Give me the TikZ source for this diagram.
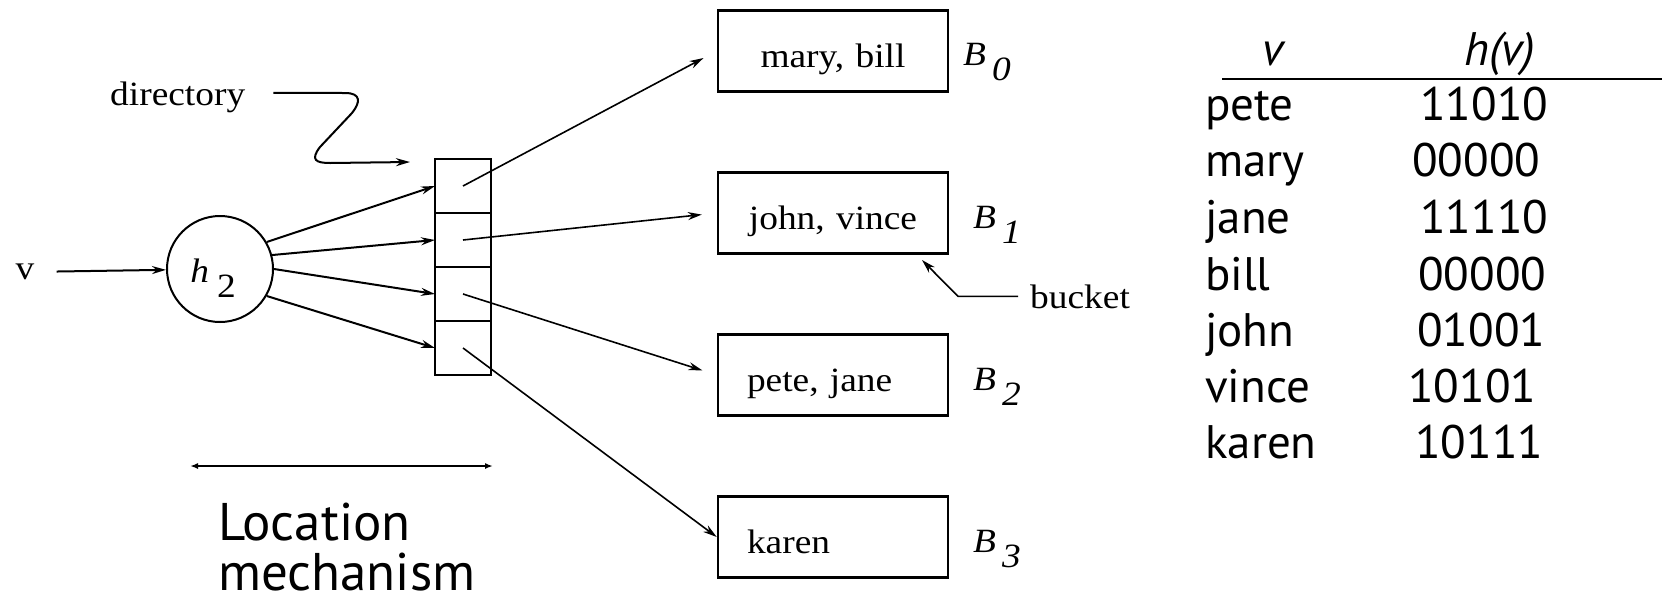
\documentclass[tikz,border=0pt]{standalone}
\usepackage{fontspec}
\setmainfont{PT Sans}
\newfontfamily\figfont[FakeStretch=1.1]{Liberation Serif}
\usetikzlibrary{arrows.meta,positioning}

\newcommand{\bname}[1]{\textit{B}\hspace{6pt}\raisebox{-15pt}{\textit{#1}}}
\newcommand{\hashname}{\textit{h}\hspace{8pt}\raisebox{-15pt}{2}}

\begin{document}
\begin{tikzpicture}[x=1pt,y=-1pt,
    >={Stealth[length=14pt,width=8pt]},
    fig/.style={font=\figfont\fontsize{34}{40}\selectfont,inner sep=0pt},
    bucket/.style={fig,draw,line width=2.5pt,minimum height=81pt,text width=172pt,
        inner xsep=29pt,text height=40pt,text depth=8pt},
    cell/.style={draw,line width=2.5pt,minimum width=56pt,minimum height=54pt,outer sep=0pt},
    hashfn/.style={draw,circle,line width=2pt,minimum size=106pt},
    ptr/.style={->,line width=2pt},
    thinptr/.style={->,line width=1.6pt},
    tab/.style={font=\fontsize{47}{56}\selectfont,inner sep=0pt,anchor=base west}]
    \useasboundingbox (0,0) rectangle (1662,606);

    % hash function and directory
    \node[hashfn] (hash) at (220,269) {};
    \node[fig,anchor=base] (hlabel) at (213,282) {\hashname};
    \node[fig] (vin) at (25,272) {v};
    \draw[ptr,shorten <=22pt] (vin) -- (hash);

    \node[cell] (c1) at (463,186) {};
    \node[cell,below=0pt of c1] (c2) {};
    \node[cell,below=0pt of c2] (c3) {};
    \node[cell,below=0pt of c3] (c4) {};

    \draw[ptr] (hash.30) -- (c1.west);
    \draw[ptr] (hash.15) -- (c2.west);
    \draw[ptr] (hash.0) -- (c3.west);
    \draw[ptr] (hash.-30) -- (c4.west);

    \node[fig,anchor=base west] (dirlabel) at (110,105) {directory};
    \coordinate (dirtip) at (410,162);
    \draw[ptr] ([shift={(28,-4)}]dirlabel.east) -- (345,93)
        .. controls (362,93) and (360,103) .. (352,113) -- (320,147)
        .. controls (310,160) and (316,163) .. (330,163) -- (dirtip);

    % buckets
    \node[bucket,align=center] (b0) at (833,51) {mary, bill};
    \node[bucket,align=center] (b1) at (833,213) {john, vince};
    \node[bucket,align=left] (b2) at (833,375) {pete, jane};
    \node[bucket,align=left] (b3) at (833,537) {karen};

    \draw[thinptr,shorten >=15pt] (c1.center) -- (b0.west);
    \draw[thinptr,shorten >=15pt] (c2.center) -- (b1.west);
    \draw[thinptr,shorten >=15pt] (c3.center) -- (b2.west);
    \draw[thinptr] (c4.center) -- (b3.west);

    \node[fig,anchor=base west] (l0) at (963,65) {\bname{0}};
    \node[fig,anchor=base west] (l1) at (973,228) {\bname{1}};
    \node[fig,anchor=base west] (l2) at (973,390) {\bname{2}};
    \node[fig,anchor=base west] (l3) at (973,552) {\bname{3}};

    \node[fig,anchor=base west] (bkt) at (1030,308) {bucket};
    \coordinate (bkttip) at (922,260);
    \draw[thinptr] ([xshift=-12pt]bkt.west) -- ++(-60,0) -- (bkttip);

    % extent of the location mechanism
    \coordinate (locl) at (190,466);
    \coordinate (locr) at (493,466);
    \draw[{Latex[length=8pt,width=6pt]}-{Latex[length=8pt,width=6pt]},line width=2pt] (locl) -- (locr);
    \node[anchor=north west,align=left,inner sep=0pt,font=\fontsize{53}{50}\selectfont] (locname) at (218,503) {Location\\mechanism};

    % hash values
    \node[tab] (hv) at (1262,65) {\textit{v}};
    \node[tab] (hhv) at (1464,65) {\textit{h(v)}};
    \draw[line width=2.5pt] (1222,79) -- (1662,79);

    \node[tab] (pete) at (1205,120) {pete};
    \node[tab] (petehash) at (1420,120) {11010};
    \node[tab] (mary) at (1205,176) {mary};
    \node[tab] (maryhash) at (1412,176) {00000};
    \node[tab] (jane) at (1205,233) {jane};
    \node[tab] (janehash) at (1420,233) {11110};
    \node[tab] (bill) at (1205,290) {bill};
    \node[tab] (billhash) at (1418,290) {00000};
    \node[tab] (john) at (1205,346) {john};
    \node[tab] (johnhash) at (1417,346) {01001};
    \node[tab] (vince) at (1205,402) {vince};
    \node[tab] (vincehash) at (1408,402) {10101};
    \node[tab] (karen) at (1205,458) {karen};
    \node[tab] (karenhash) at (1415,458) {10111};
\end{tikzpicture}
\end{document}
